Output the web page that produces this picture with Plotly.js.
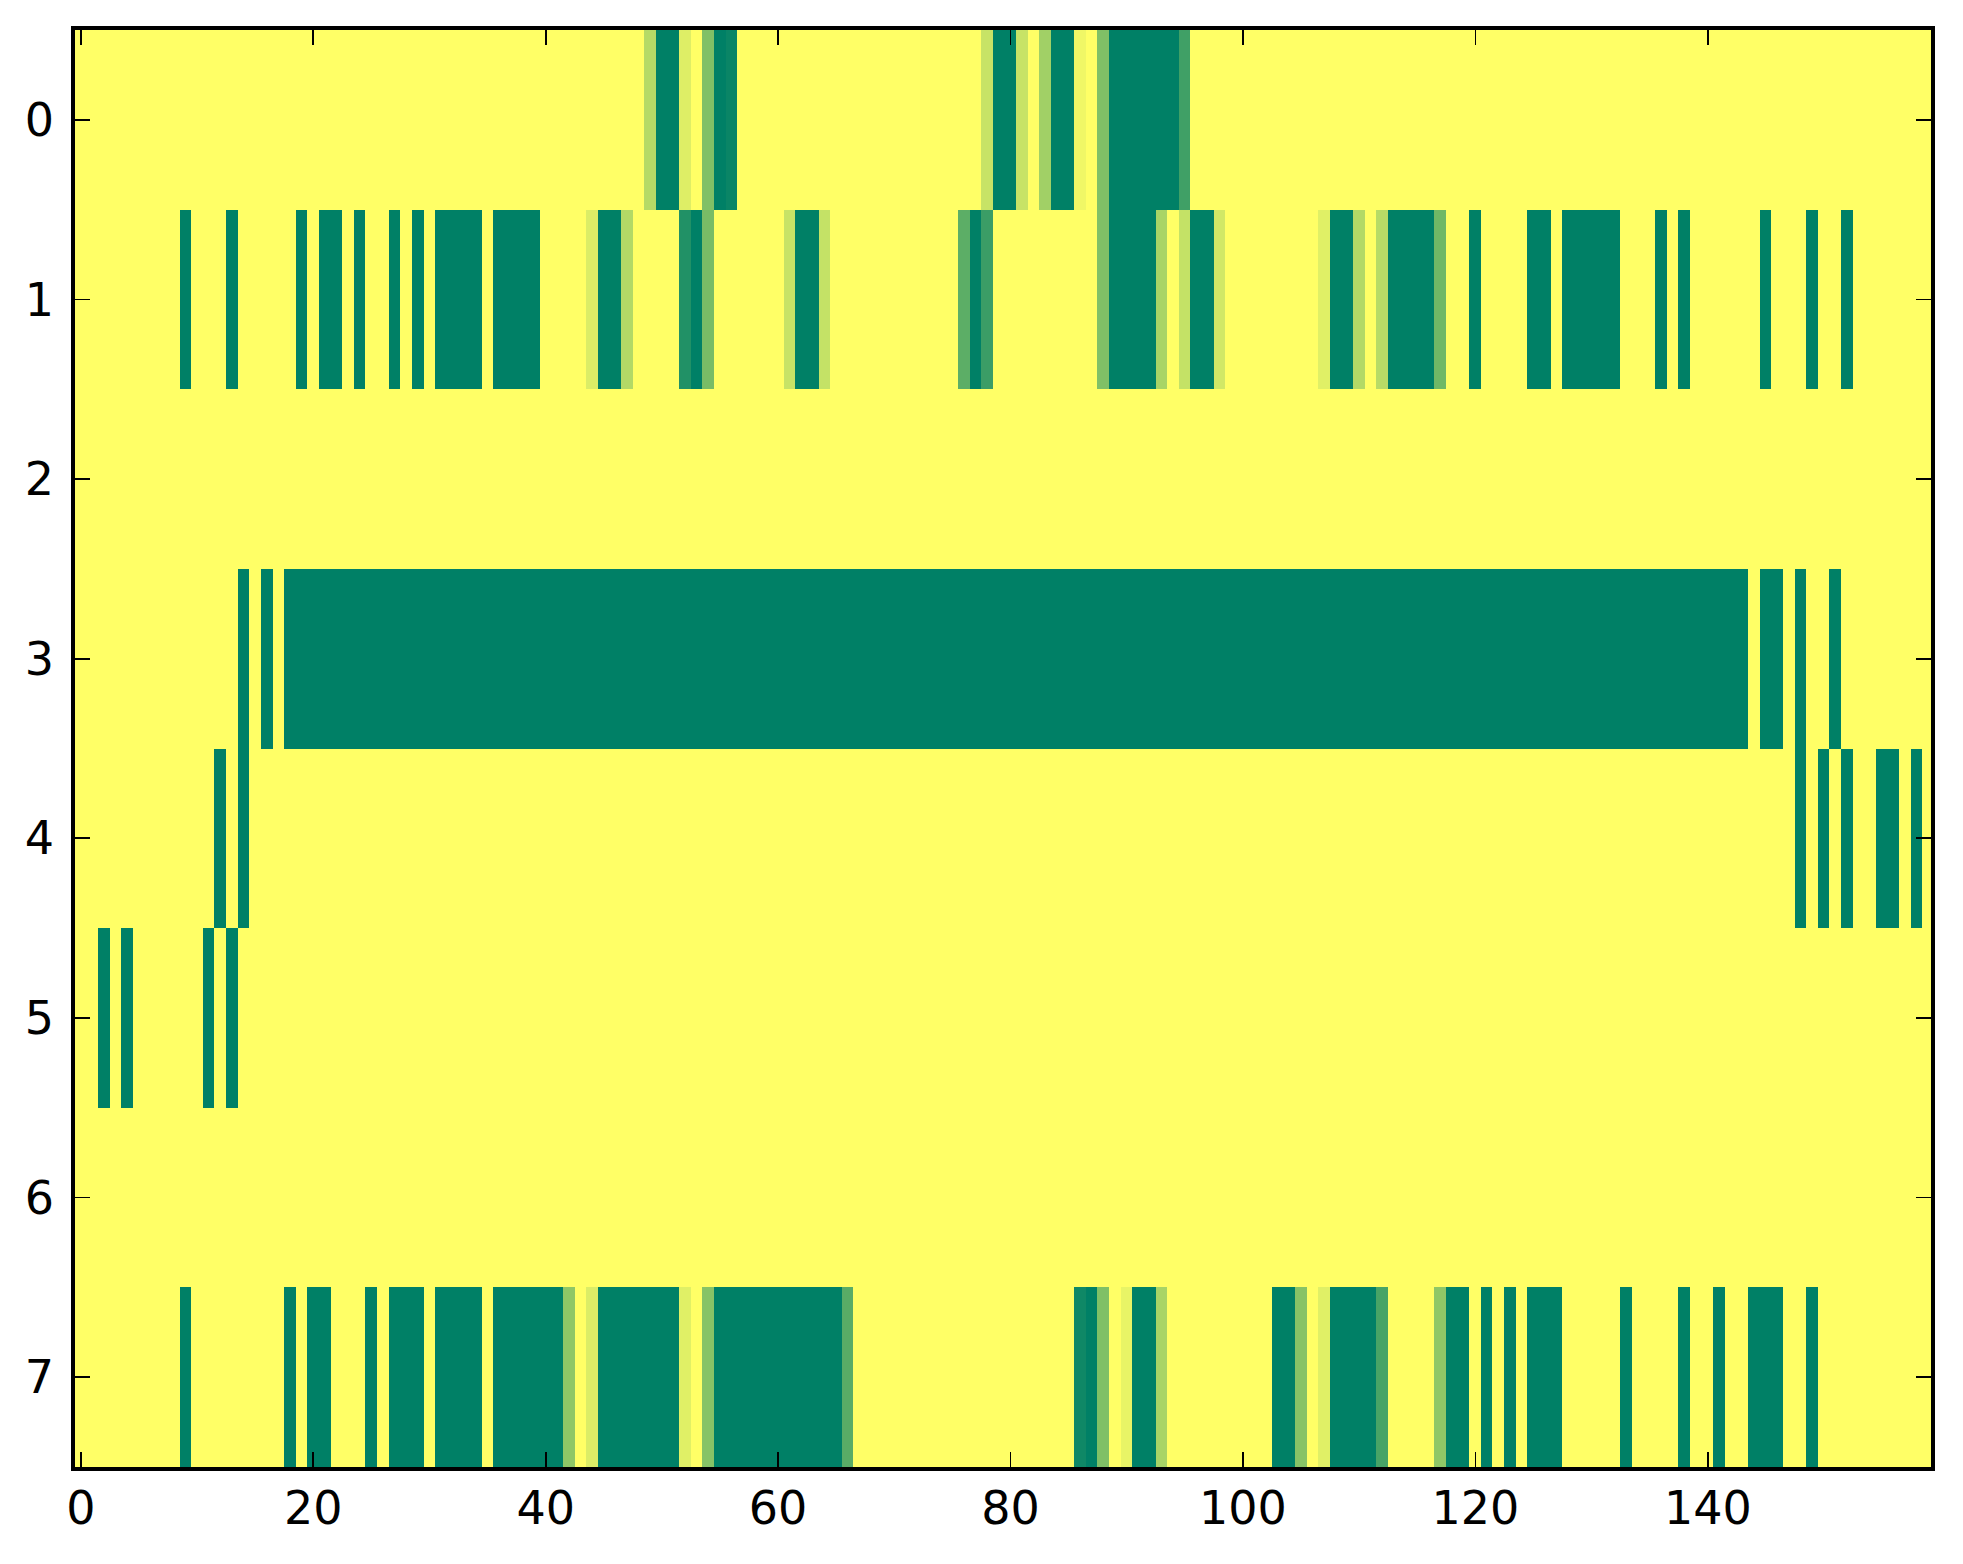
<!DOCTYPE html>
<html>
<head>
<meta charset="utf-8">
<script src="https://cdn.plot.ly/plotly-3.0.1.min.js"></script>
<style>html,body{margin:0;padding:0;background:#fff;}#chart{width:1963px;height:1564px;}</style>
</head>
<body>
<div id="chart"></div>
<script>
// Row labels (y) and x tick values
const rowLabels = [0, 1, 2, 3, 4, 5, 6, 7];
const xTickVals = [0, 20, 40, 60, 80, 100, 120, 140];

// Cell values per row, columns 0..159 (0 = yellow, 1 = green)
const row0 = [
0,0,0,0,0,0,0,0,0,0,
0,0,0,0,0,0,0,0,0,0,
0,0,0,0,0,0,0,0,0,0,
0,0,0,0,0,0,0,0,0,0,
0,0,0,0,0,0,0,0,0,.29,
1,1,.13,0,.5,1,.96,0,0,0,
0,0,0,0,0,0,0,0,0,0,
0,0,0,0,0,0,0,0,.22,1,
1,.22,0,.37,1,1,.06,0,.5,1,
1,1,1,1,1,.75,0,0,0,0,
0,0,0,0,0,0,0,0,0,0,
0,0,0,0,0,0,0,0,0,0,
0,0,0,0,0,0,0,0,0,0,
0,0,0,0,0,0,0,0,0,0,
0,0,0,0,0,0,0,0,0,0,
0,0,0,0,0,0,0,0,0,0
];
const row1 = [
0,0,0,0,0,0,0,0,0,1,
0,0,0,1,0,0,0,0,0,1,
0,1,1,0,1,0,0,1,0,1,
0,1,1,1,1,0,1,1,1,1,
0,0,0,0,.14,1,1,.3,0,0,
0,0,.87,1,.53,0,0,0,0,0,
0,.22,1,1,.23,0,0,0,0,0,
0,0,0,0,0,0,.64,1,.77,0,
0,0,0,0,0,0,0,0,.5,1,
1,1,1,.34,0,.23,1,1,.18,0,
0,0,0,0,0,0,0,.12,1,1,
.3,0,.28,1,1,1,1,.56,0,0,
1,0,0,0,0,1,1,0,1,1,
1,1,1,0,0,0,1,0,1,0,
0,0,0,0,0,1,0,0,0,1,
0,0,1,0,0,0,0,0,0,0
];
const row2 = [
0,0,0,0,0,0,0,0,0,0,
0,0,0,0,0,0,0,0,0,0,
0,0,0,0,0,0,0,0,0,0,
0,0,0,0,0,0,0,0,0,0,
0,0,0,0,0,0,0,0,0,0,
0,0,0,0,0,0,0,0,0,0,
0,0,0,0,0,0,0,0,0,0,
0,0,0,0,0,0,0,0,0,0,
0,0,0,0,0,0,0,0,0,0,
0,0,0,0,0,0,0,0,0,0,
0,0,0,0,0,0,0,0,0,0,
0,0,0,0,0,0,0,0,0,0,
0,0,0,0,0,0,0,0,0,0,
0,0,0,0,0,0,0,0,0,0,
0,0,0,0,0,0,0,0,0,0,
0,0,0,0,0,0,0,0,0,0
];
const row3 = [
0,0,0,0,0,0,0,0,0,0,
0,0,0,0,1,0,1,0,1,1,
1,1,1,1,1,1,1,1,1,1,
1,1,1,1,1,1,1,1,1,1,
1,1,1,1,1,1,1,1,1,1,
1,1,1,1,1,1,1,1,1,1,
1,1,1,1,1,1,1,1,1,1,
1,1,1,1,1,1,1,1,1,1,
1,1,1,1,1,1,1,1,1,1,
1,1,1,1,1,1,1,1,1,1,
1,1,1,1,1,1,1,1,1,1,
1,1,1,1,1,1,1,1,1,1,
1,1,1,1,1,1,1,1,1,1,
1,1,1,1,1,1,1,1,1,1,
1,1,1,1,0,1,1,0,1,0,
0,1,0,0,0,0,0,0,0,0
];
const row4 = [
0,0,0,0,0,0,0,0,0,0,
0,0,1,0,1,0,0,0,0,0,
0,0,0,0,0,0,0,0,0,0,
0,0,0,0,0,0,0,0,0,0,
0,0,0,0,0,0,0,0,0,0,
0,0,0,0,0,0,0,0,0,0,
0,0,0,0,0,0,0,0,0,0,
0,0,0,0,0,0,0,0,0,0,
0,0,0,0,0,0,0,0,0,0,
0,0,0,0,0,0,0,0,0,0,
0,0,0,0,0,0,0,0,0,0,
0,0,0,0,0,0,0,0,0,0,
0,0,0,0,0,0,0,0,0,0,
0,0,0,0,0,0,0,0,0,0,
0,0,0,0,0,0,0,0,1,0,
1,0,1,0,0,1,1,0,1,0
];
const row5 = [
0,0,1,0,1,0,0,0,0,0,
0,1,0,1,0,0,0,0,0,0,
0,0,0,0,0,0,0,0,0,0,
0,0,0,0,0,0,0,0,0,0,
0,0,0,0,0,0,0,0,0,0,
0,0,0,0,0,0,0,0,0,0,
0,0,0,0,0,0,0,0,0,0,
0,0,0,0,0,0,0,0,0,0,
0,0,0,0,0,0,0,0,0,0,
0,0,0,0,0,0,0,0,0,0,
0,0,0,0,0,0,0,0,0,0,
0,0,0,0,0,0,0,0,0,0,
0,0,0,0,0,0,0,0,0,0,
0,0,0,0,0,0,0,0,0,0,
0,0,0,0,0,0,0,0,0,0,
0,0,0,0,0,0,0,0,0,0
];
const row6 = [
0,0,0,0,0,0,0,0,0,0,
0,0,0,0,0,0,0,0,0,0,
0,0,0,0,0,0,0,0,0,0,
0,0,0,0,0,0,0,0,0,0,
0,0,0,0,0,0,0,0,0,0,
0,0,0,0,0,0,0,0,0,0,
0,0,0,0,0,0,0,0,0,0,
0,0,0,0,0,0,0,0,0,0,
0,0,0,0,0,0,0,0,0,0,
0,0,0,0,0,0,0,0,0,0,
0,0,0,0,0,0,0,0,0,0,
0,0,0,0,0,0,0,0,0,0,
0,0,0,0,0,0,0,0,0,0,
0,0,0,0,0,0,0,0,0,0,
0,0,0,0,0,0,0,0,0,0,
0,0,0,0,0,0,0,0,0,0
];
const row7 = [
0,0,0,0,0,0,0,0,0,1,
0,0,0,0,0,0,0,0,1,0,
1,1,0,0,0,1,0,1,1,1,
0,1,1,1,1,0,1,1,1,1,
1,1,.44,0,.14,1,1,1,1,1,
1,1,.12,0,.47,1,1,1,1,1,
1,1,1,1,1,1,.65,0,0,0,
0,0,0,0,0,0,0,0,0,0,
0,0,0,0,0,0,.94,1,.5,0,
.09,1,1,.34,0,0,0,0,0,0,
0,0,0,1,1,.47,0,.12,1,1,
1,1,.72,0,0,0,0,.44,1,1,
0,1,0,1,0,1,1,1,0,0,
0,0,0,1,0,0,0,0,1,0,
0,1,0,0,1,1,1,0,0,1,
0,0,0,0,0,0,0,0,0,0
];

const z = [row0, row1, row2, row3, row4, row5, row6, row7];

const trace = {
  type: 'heatmap',
  z: z,
  y: rowLabels,
  zmin: 0,
  zmax: 1,
  zsmooth: false,
  showscale: false,
  colorscale: [[0, 'rgb(255,255,102)'], [1, 'rgb(0,128,102)']],
  hoverinfo: 'skip'
};

const axisCommon = {
  showline: true,
  mirror: 'ticks',
  linecolor: '#000',
  linewidth: 3.7,
  ticks: 'inside',
  ticklen: 15,
  tickwidth: 1.7,
  tickcolor: '#000',
  showgrid: false,
  zeroline: false,
  tickfont: {family: 'DejaVu Sans', size: 46, color: '#000'}
};

const layout = {
  width: 1963,
  height: 1564,
  margin: {l: 75, r: 32, t: 30, b: 97, pad: 0},
  paper_bgcolor: '#fff',
  plot_bgcolor: '#fff',
  showlegend: false,
  xaxis: Object.assign({}, axisCommon, {
    range: [-0.5, 159.2],
    tickmode: 'array',
    tickvals: xTickVals,
    ticktext: xTickVals.map(String),
    ticklabelstandoff: -2
  }),
  yaxis: Object.assign({}, axisCommon, {
    range: [7.5, -0.5],
    tickmode: 'array',
    tickvals: rowLabels,
    ticktext: rowLabels.map(String),
    ticklabelstandoff: 8
  })
};

Plotly.newPlot('chart', [trace], layout, {displayModeBar: false, staticPlot: true});
</script>
</body>
</html>
